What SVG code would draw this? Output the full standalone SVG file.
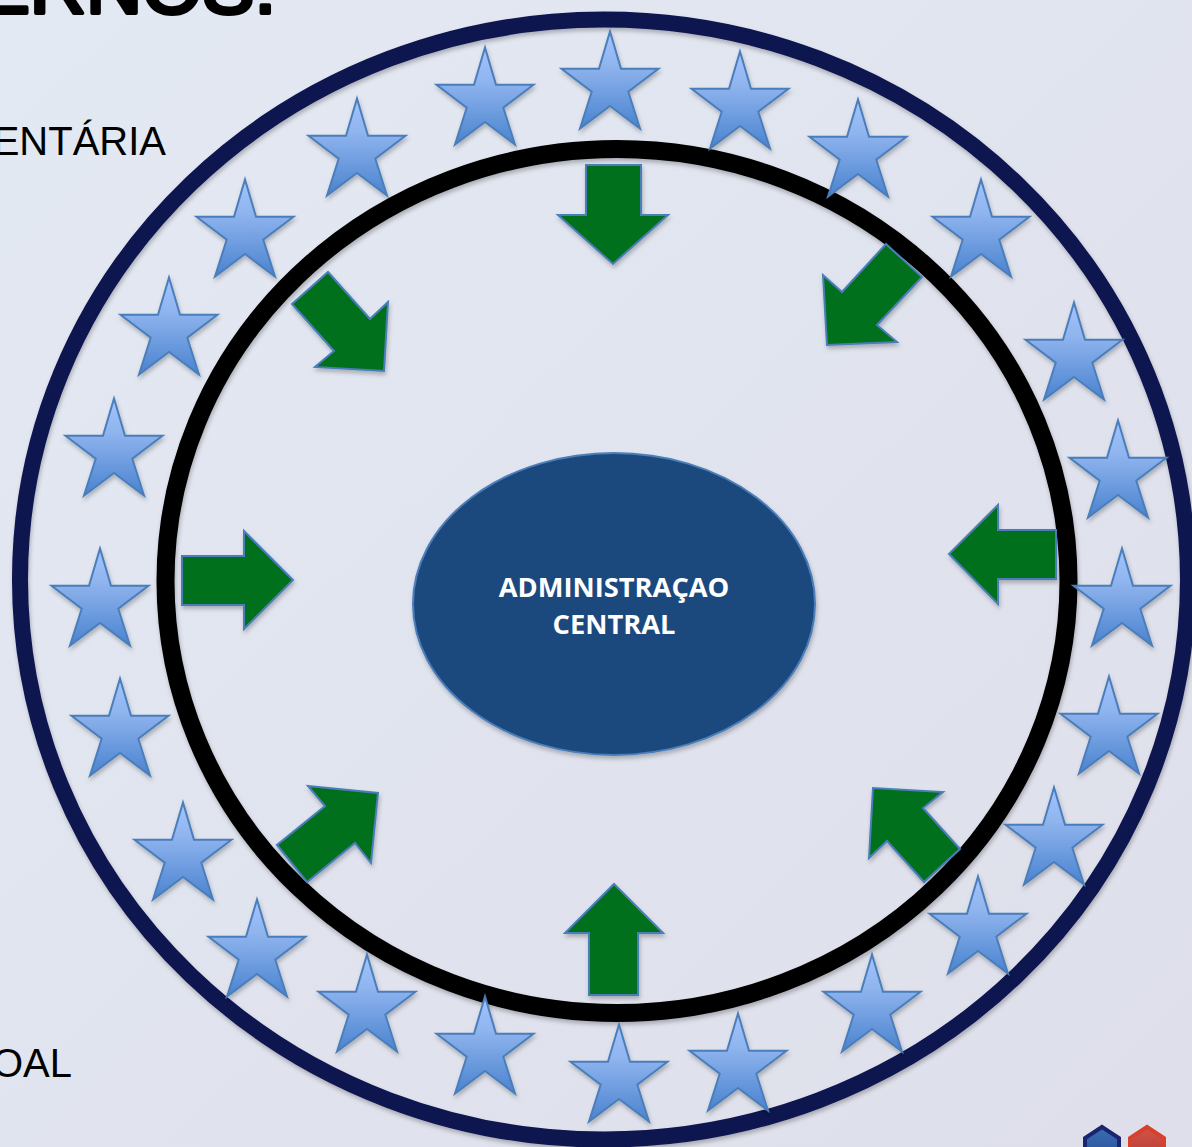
<svg xmlns="http://www.w3.org/2000/svg" width="1192" height="1147" viewBox="0 0 1192 1147">
<style>
.star{fill:url(#sg);stroke:#4a7ebb;stroke-width:2;stroke-linejoin:miter;filter:url(#sh)}
.arrow{fill:#04701e;stroke:#4a7ebb;stroke-width:2;filter:url(#sh)}
.lbl{font-family:"Liberation Sans",Arial,sans-serif;font-size:40px;fill:#000;text-anchor:end}
.ctr{font-family:"Open Sans","Noto Sans",sans-serif;font-weight:700;font-size:27.300px;fill:#fff;text-anchor:middle}
</style>
<defs>
<linearGradient id="bg" x1="0" y1="0" x2="1" y2="1"><stop offset="0" stop-color="#e3e9f3"/><stop offset="1" stop-color="#dedfea"/></linearGradient>
<linearGradient id="sg" x1="0" y1="0" x2="0" y2="1"><stop offset="0" stop-color="#a3c4ff"/><stop offset="0.35" stop-color="#8fb4ee"/><stop offset="1" stop-color="#4a83cf"/></linearGradient>
<linearGradient id="hb" x1="0" y1="0" x2="0" y2="1"><stop offset="0" stop-color="#3a6cb4"/><stop offset="1" stop-color="#2a5198"/></linearGradient>
<linearGradient id="hr" x1="0" y1="0" x2="0" y2="1"><stop offset="0" stop-color="#d0554a"/><stop offset="1" stop-color="#b83a30"/></linearGradient>
<filter id="sh" x="-15%" y="-15%" width="130%" height="130%"><feDropShadow dx="1" dy="3" stdDeviation="2" flood-color="#000" flood-opacity="0.25"/></filter>
<polygon id="s" points="0,1.500 11,38.700 48.500,38.700 18.300,61.700 30,98.500 0,76 -30,98.500 -18.300,61.700 -48.500,38.700 -11,38.700"/>
</defs>
<rect id="background" width="1192" height="1147" fill="url(#bg)"/>
<g id="title"><text x="-22" y="13" font-family="'Liberation Sans',sans-serif" font-size="76" fill="#000" stroke="#000" stroke-width="4" stroke-linejoin="round" textLength="298" lengthAdjust="spacingAndGlyphs">ERNOS:</text></g>
<g id="labels">
<text class="lbl" x="166" y="155">ENTÁRIA</text>
<text class="lbl" x="72" y="1077">OAL</text>
</g>
<g id="rings" fill="none">
<ellipse id="outer-ring" cx="604" cy="579.500" rx="584" ry="560" stroke="#0c134f" stroke-width="16" filter="url(#sh)"/>
<ellipse id="inner-ring" cx="617" cy="581" rx="451.500" ry="432" stroke="#000" stroke-width="18" filter="url(#sh)"/>
</g>
<g id="stars">
<use class="star" href="#s" x="610" y="30"/><use class="star" href="#s" x="485" y="46"/><use class="star" href="#s" x="740" y="50"/><use class="star" href="#s" x="357" y="97"/><use class="star" href="#s" x="858" y="98"/><use class="star" href="#s" x="245" y="178"/><use class="star" href="#s" x="981" y="178"/><use class="star" href="#s" x="169" y="276"/><use class="star" href="#s" x="1074" y="301"/><use class="star" href="#s" x="114" y="397"/><use class="star" href="#s" x="1118" y="419"/><use class="star" href="#s" x="100" y="547"/><use class="star" href="#s" x="1122" y="547"/><use class="star" href="#s" x="120" y="677"/><use class="star" href="#s" x="1109" y="675"/><use class="star" href="#s" x="183" y="801"/><use class="star" href="#s" x="1054" y="786"/><use class="star" href="#s" x="257" y="898"/><use class="star" href="#s" x="978" y="875"/><use class="star" href="#s" x="367" y="953"/><use class="star" href="#s" x="872" y="953"/><use class="star" href="#s" x="485" y="995"/><use class="star" href="#s" x="738" y="1012"/><use class="star" href="#s" x="619" y="1023"/>
</g>
<g id="connectors">
<polygon class="arrow" points="586,165 641,165 641,215 668,215 613,264 558,215 586,215"/>
<polygon class="arrow" points="182,556 244,556 244,531 293,580 244,629 244,605 182,605"/>
<polygon class="arrow" points="1056,530 998,530 998,505 949,554 998,604 998,579 1056,579"/>
<polygon class="arrow" points="589,995 638,995 638,933 663,933 614,884 565,933 589,933"/>
<polygon class="arrow" points="886,244 922,277 877,325 897,342 827,345 823,275 842,292"/>
<polygon class="arrow" points="292,304 328,272 370,319 388,302 384,371 315,367 334,351"/>
<polygon class="arrow" points="277,845 307,882 355,843 371,863 378,793 308,786 325,806"/>
<polygon class="arrow" points="960,849 924,882 887,841 869,858 873,788 943,792 923,808"/>
</g>
<g id="center-node">
<ellipse cx="614" cy="604" rx="201" ry="151" fill="#1f497d" stroke="#4a7ebb" stroke-width="2" filter="url(#sh)"/>
<text class="ctr" x="614" y="597">ADMINISTRAÇAO</text>
<text class="ctr" x="614" y="634">CENTRAL</text>
</g>
<g id="logo">
<polygon points="1102,1127 1119,1138 1119,1160 1085,1160 1085,1138" fill="url(#hb)" stroke="#1a2570" stroke-width="4"/>
<polygon points="1147,1127 1164,1138 1164,1160 1130,1160 1130,1138" fill="url(#hr)" stroke="#d8402c" stroke-width="4"/>
</g>
</svg>
